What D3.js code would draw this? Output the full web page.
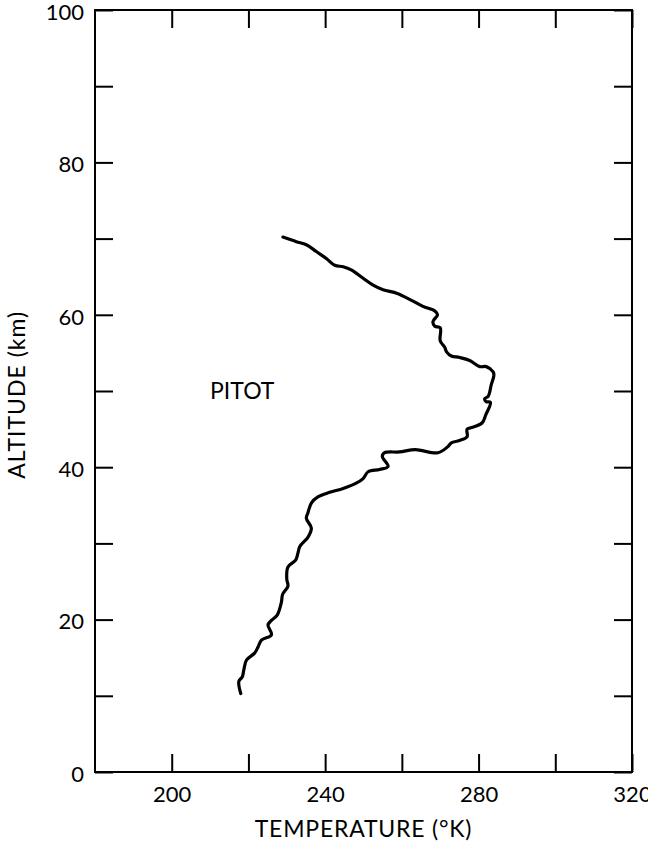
<!DOCTYPE html>
<html>
<head>
<meta charset="utf-8">
<script src="https://cdn.jsdelivr.net/npm/d3@7"></script>
<style>
  html, body { margin: 0; padding: 0; background: #fff; }
  svg { display: block; }
  text { font-family: Lato, "Noto Sans", sans-serif; fill: #000; }
</style>
</head>
<body>
<svg id="chart" width="648" height="846"></svg>
<script>
// Temperature profile measured by the pitot probe (altitude descending)
const altitudeKm = [
  70.2, 69.6, 69.2, 68.3, 67.4, 66.5, 66.3, 65.9, 64.8, 63.9, 63.3, 62.8, 61.9, 61.1,
  60.5, 60.0, 59.1, 58.5, 58.3, 56.6, 55.7, 55.1, 54.6, 54.4, 54.0, 53.2, 53.2, 52.5,
  52.1, 50.8, 49.3, 49.0, 48.6, 48.5, 46.9, 45.8, 45.2, 45.0, 44.0, 43.5, 43.2, 42.7,
  41.9, 42.3, 42.0, 41.9, 41.4, 40.1, 39.7, 39.4, 38.5, 37.9, 37.2, 36.7, 36.1, 35.3,
  34.0, 33.3, 32.0, 30.8, 29.6, 28.7, 27.8, 26.9, 25.3, 24.4, 23.3, 22.3, 20.6, 19.9,
  19.3, 18.0, 17.3, 16.4, 15.6, 14.7, 13.4, 12.5, 11.9, 10.3
];
const temperatureK = [
  229.0, 232.5, 235.1, 237.7, 240.3, 242.5, 244.7, 246.8, 249.9, 252.5, 255.1, 258.8, 262.5, 265.5,
  268.6, 269.3, 268.1, 268.6, 270.0, 270.0, 271.2, 271.7, 272.9, 275.1, 277.7, 280.3, 282.0, 283.8,
  284.0, 283.3, 282.5, 281.6, 282.0, 283.1, 281.9, 280.9, 278.2, 277.0, 277.0, 275.0, 272.9, 272.0,
  269.4, 263.5, 259.4, 255.5, 254.9, 256.4, 254.2, 251.2, 249.9, 248.1, 244.7, 241.2, 238.1, 236.4,
  235.5, 235.1, 236.4, 235.5, 233.4, 232.9, 232.3, 230.3, 230.0, 230.3, 228.9, 228.6, 227.5, 226.0,
  225.1, 226.0, 223.4, 222.5, 221.6, 219.5, 218.8, 218.4, 217.5, 218.0
];

// Axis ticks and labels
const tempTicks = [200, 220, 240, 260, 280, 300, 320];
const tempLabels = [200, 240, 280, 320];
const altTicks = [0, 10, 20, 30, 40, 50, 60, 70, 80, 90, 100];
const altLabels = [0, 20, 40, 60, 80, 100];
const curveLabel = { text: "PITOT", temp: 210, alt: 50 };

const margin = { top: 10, right: 16, bottom: 74, left: 95 };
const svg = d3.select("#chart");
const W = +svg.attr("width"), H = +svg.attr("height");
const w = W - margin.left - margin.right;
const h = H - margin.top - margin.bottom;

const x = d3.scaleLinear().domain([180, 320]).range([0, w]);
const y = d3.scaleLinear().domain([0, 100]).range([h, 0]);

const g = svg.append("g").attr("transform", `translate(${margin.left},${margin.top})`);

const tickLen = 18;
const fmtT = d => tempLabels.includes(d) ? d : "";
const fmtA = d => altLabels.includes(d) ? d : "";

function styleAxis(sel) {
  sel.select(".domain").remove();
  sel.selectAll(".tick line").attr("stroke", "#000").attr("stroke-width", 2);
  sel.selectAll(".tick text").attr("font-size", 22).attr("fill", "#000");
}

g.append("g").attr("transform", `translate(0,${h})`)
  .call(d3.axisBottom(x).tickValues(tempTicks).tickSize(-tickLen).tickPadding(14).tickFormat(fmtT))
  .call(styleAxis);
g.append("g")
  .call(d3.axisTop(x).tickValues(tempTicks).tickSize(-tickLen).tickFormat(""))
  .call(styleAxis);
g.append("g")
  .call(d3.axisLeft(y).tickValues(altTicks).tickSize(-tickLen).tickPadding(11).tickFormat(fmtA))
  .call(styleAxis)
  .call(s => s.selectAll(".tick text").attr("dy", "0.42em"));
g.append("g").attr("transform", `translate(${w},0)`)
  .call(d3.axisRight(y).tickValues(altTicks).tickSize(-tickLen).tickFormat(""))
  .call(styleAxis);

// Plot frame
g.append("rect")
  .attr("x", 0).attr("y", 0).attr("width", w).attr("height", h)
  .attr("fill", "none").attr("stroke", "#000").attr("stroke-width", 2);

// Temperature profile
const pts = altitudeKm.map((a, i) => [temperatureK[i], a]);
const line = d3.line()
  .x(d => x(d[0]))
  .y(d => y(d[1]))
  .curve(d3.curveCatmullRom.alpha(0.5));
g.append("path")
  .datum(pts)
  .attr("d", line)
  .attr("fill", "none")
  .attr("stroke", "#000")
  .attr("stroke-width", 3.2)
  .attr("stroke-linejoin", "round")
  .attr("stroke-linecap", "round");

g.append("text")
  .attr("x", x(curveLabel.temp)).attr("y", y(curveLabel.alt))
  .attr("dy", "0.36em")
  .attr("font-size", 23)
  .text(curveLabel.text);

// Axis titles
svg.append("text")
  .attr("x", margin.left + x(250)).attr("y", 837)
  .attr("text-anchor", "middle")
  .attr("font-size", 23)
  .attr("letter-spacing", 0.8)
  .text("TEMPERATURE (°K)");
svg.append("text")
  .attr("transform", `translate(25,${margin.top + y(49.5)}) rotate(-90)`)
  .attr("text-anchor", "middle")
  .attr("font-size", 23)
  .attr("letter-spacing", 1)
  .text("ALTITUDE (km)");
</script>
</body>
</html>
